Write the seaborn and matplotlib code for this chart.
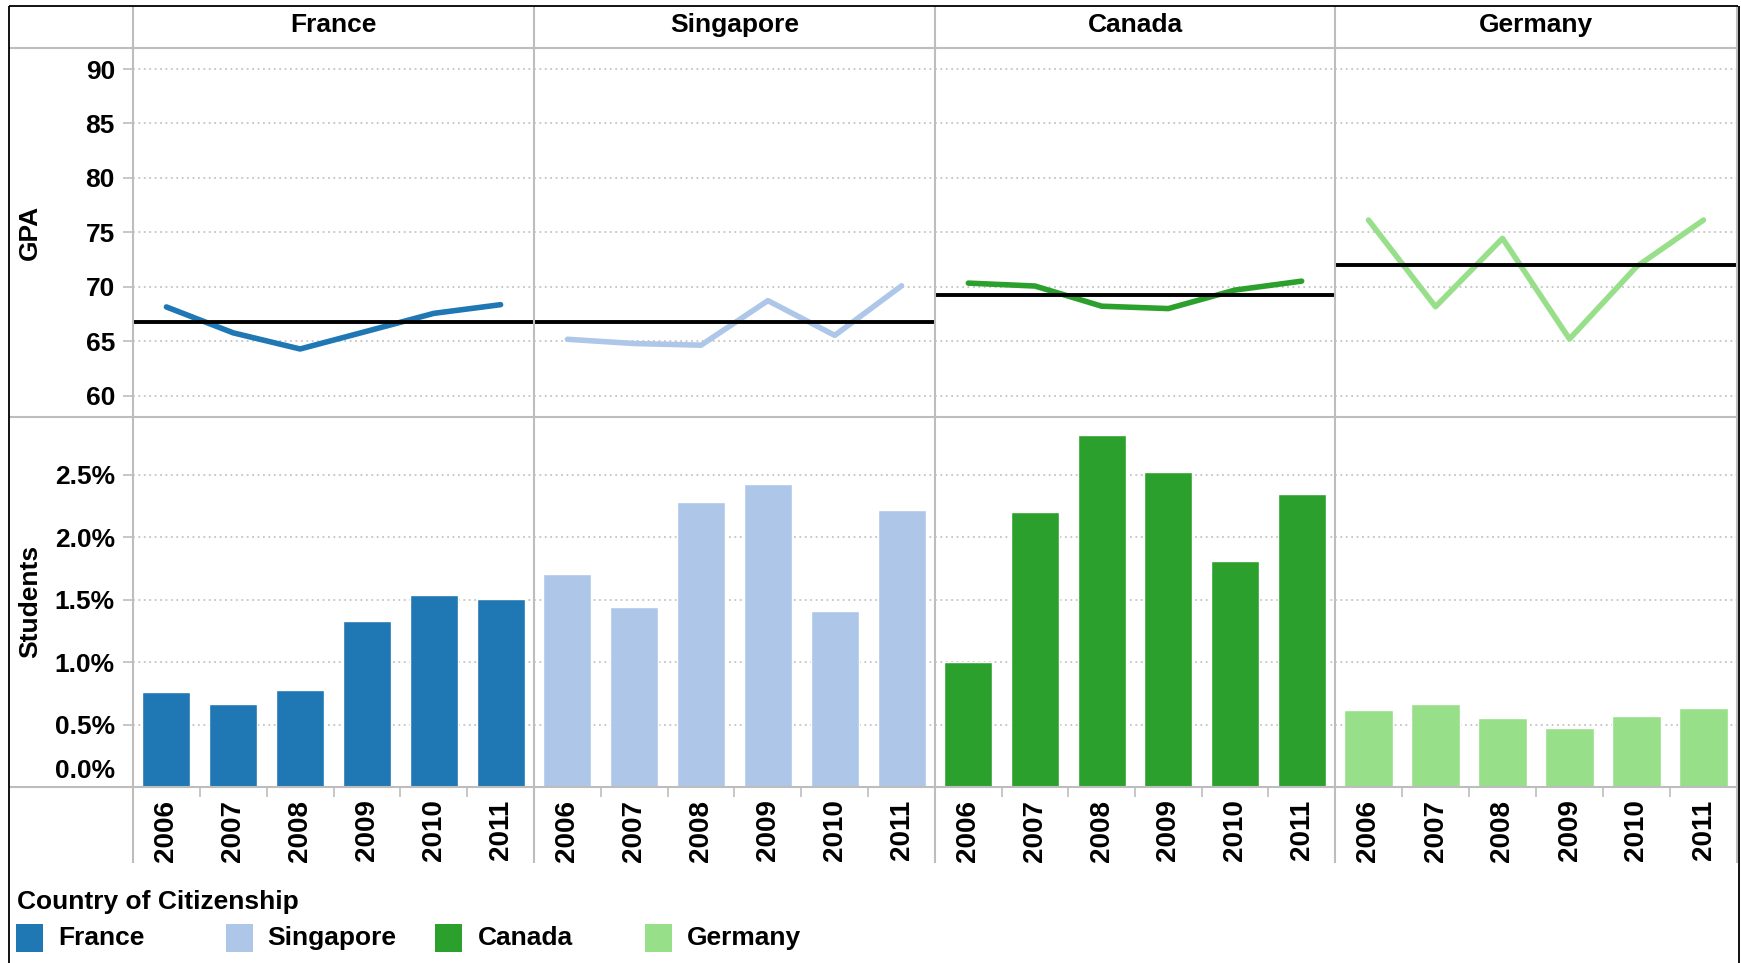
import matplotlib.pyplot as plt
import seaborn as sns
import pandas as pd
from matplotlib.lines import Line2D
from matplotlib.patches import Rectangle
from matplotlib.ticker import FuncFormatter
from matplotlib.transforms import ScaledTranslation

countries = ['France', 'Singapore', 'Canada', 'Germany']
years = ['2006', '2007', '2008', '2009', '2010', '2011']
colors = ['#1f77b4', '#aec7e8', '#2ca02c', '#98df8a']

# GPA per year
gpa_france = [68.15, 65.77, 64.29, 65.92, 67.56, 68.36]
gpa_singapore = [65.18, 64.79, 64.64, 68.73, 65.54, 70.09]
gpa_canada = [70.34, 70.07, 68.22, 68.0, 69.7, 70.52]
gpa_germany = [76.13, 68.17, 74.45, 65.21, 71.85, 76.13]

# share of students (%)
students_france = [0.76, 0.664, 0.776, 1.328, 1.536, 1.504]
students_singapore = [1.709, 1.439, 2.279, 2.424, 1.407, 2.215]
students_canada = [1.0, 2.2, 2.816, 2.52, 1.808, 2.344]
students_germany = [0.616, 0.664, 0.552, 0.472, 0.568, 0.632]

# overall average GPA (reference line)
avg_gpa = [66.76, 66.81, 69.27, 72.0]

gpa = [gpa_france, gpa_singapore, gpa_canada, gpa_germany]
students = [students_france, students_singapore, students_canada, students_germany]

rows = []
for c, g, s in zip(countries, gpa, students):
    for y, gv, sv in zip(years, g, s):
        rows.append({'Country': c, 'Year': y, 'GPA': gv, 'Students': sv})
df = pd.DataFrame(rows)

W, H = 1741, 963
sns.set_theme(style='white')
plt.rcParams['font.family'] = ['Liberation Sans', 'DejaVu Sans']
plt.rcParams.update({'font.weight': 'bold', 'text.color': 'black',
                     'axes.labelcolor': 'black', 'xtick.labelcolor': 'black',
                     'ytick.labelcolor': 'black'})
FS = 19
GRID = '#c4c4c4'
SEP = '#bdbdbd'

fig = plt.figure(figsize=(W / 100, H / 100), dpi=100)
fig.patch.set_facecolor('white')


def fx(px):
    return px / W


def fy(py):
    return 1 - py / H


def fig_line(x0, y0, x1, y1, color, lw):
    fig.add_artist(Line2D([fx(x0), fx(x1)], [fy(y0), fy(y1)],
                          transform=fig.transFigure, color=color, lw=lw,
                          solid_capstyle='butt'))


col_x = [133, 534, 935, 1335, 1737]
top_row = (47.7, 416.7)
bot_row = (416.7, 787)


def style_axes(ax, first):
    for sp in ax.spines.values():
        sp.set_visible(False)
    ax.set_facecolor('none')
    ax.yaxis.grid(True, linestyle=(0, (1, 2)), color=GRID, lw=1.3)
    ax.xaxis.grid(False)
    ax.set_axisbelow(True)
    ax.set_xlim(-0.5, 5.5)
    if first:
        ax.tick_params(axis='y', left=True, length=7, width=1.2, color=SEP,
                       pad=6, labelsize=FS, labelcolor='black')
    else:
        ax.tick_params(axis='y', left=False, labelleft=False)


for i, country in enumerate(countries):
    x0, x1 = col_x[i], col_x[i + 1]
    sub = df[df['Country'] == country]

    # GPA line panel
    ax = fig.add_axes([fx(x0), fy(top_row[1]), (x1 - x0) / W, (top_row[1] - top_row[0]) / H])
    sns.lineplot(data=sub, x='Year', y='GPA', color=colors[i], lw=4, ax=ax,
                 sort=False)
    ax.axhline(avg_gpa[i], color='black', lw=2.8, zorder=5)
    ax.set_ylim(58.07, 91.96)
    ax.set_yticks([60, 65, 70, 75, 80, 85, 90])
    style_axes(ax, i == 0)
    ax.tick_params(axis='x', bottom=False, labelbottom=False)
    ax.set_xlabel('')
    if i == 0:
        ax.set_ylabel('GPA', fontsize=FS, fontweight='bold', va='center',
                      color='black')
        ax.yaxis.set_label_coords(-0.257, 0.5)
    else:
        ax.set_ylabel('')

    # Students bar panel
    ax2 = fig.add_axes([fx(x0), fy(bot_row[1]), (x1 - x0) / W, (bot_row[1] - bot_row[0]) / H])
    sns.barplot(data=sub, x='Year', y='Students', order=years, color=colors[i],
                width=0.72, saturation=1, ax=ax2)
    ax2.set_ylim(0, 2.965)
    ax2.set_yticks([0, 0.5, 1.0, 1.5, 2.0, 2.5])
    ax2.yaxis.set_major_formatter(FuncFormatter(lambda v, p: f'{v:.1f}%'))
    style_axes(ax2, i == 0)
    ax2.set_xlim(-0.5, 5.5)
    ax2.set_xticks(range(len(years)))
    ax2.set_xticklabels(years, rotation=90, fontsize=FS + 1, fontweight='bold',
                        color='black')
    ax2.set_xticks([k + 0.5 for k in range(len(years) - 1)], minor=True)
    ax2.tick_params(axis='x', which='major', bottom=True, length=0, pad=9)
    ax2.tick_params(axis='x', which='minor', bottom=True, length=7, width=1.2,
                    color=SEP)
    ax2.set_xlabel('')
    if i == 0:
        ax2.set_ylabel('Students', fontsize=FS, fontweight='bold', va='center',
                       color='black')
        ax2.yaxis.set_label_coords(-0.257, 0.5)
        zero = ax2.yaxis.get_major_ticks()[0].label1
        zero.set_verticalalignment('bottom')
        zero.set_transform(zero.get_transform() +
                           ScaledTranslation(0, 0.045, fig.dpi_scale_trans))
    else:
        ax2.set_ylabel('')

    # panel header
    fig.text(fx((x0 + x1) / 2), fy(25), country, ha='center', va='center',
             fontsize=FS, fontweight='bold', color='black')

# table lines
for y in (47.7, 416.7, 787):
    fig_line(9, y, 1738, y, SEP, 1.5)
for x in col_x:
    fig_line(x, 6, x, 863, SEP, 1.5)
fig_line(9, 6, 1738, 6, 'black', 1.3)
fig_line(9, 6, 9, 963, 'black', 1.3)
fig_line(1739, 6, 1739, 963, 'black', 1.3)

# legend
fig.text(fx(17), fy(902), 'Country of Citizenship', ha='left', va='center',
         fontsize=FS, fontweight='bold', color='black')
for i, country in enumerate(countries):
    sx = 16 + i * 209.7
    fig.add_artist(Rectangle((fx(sx), fy(952)), 27 / W, 28 / H,
                             transform=fig.transFigure, color=colors[i], lw=0))
    fig.text(fx(sx + 42), fy(938), country, ha='left', va='center',
             fontsize=FS, fontweight='bold', color='black')

fig.savefig('out.png', dpi=100, facecolor='white')
